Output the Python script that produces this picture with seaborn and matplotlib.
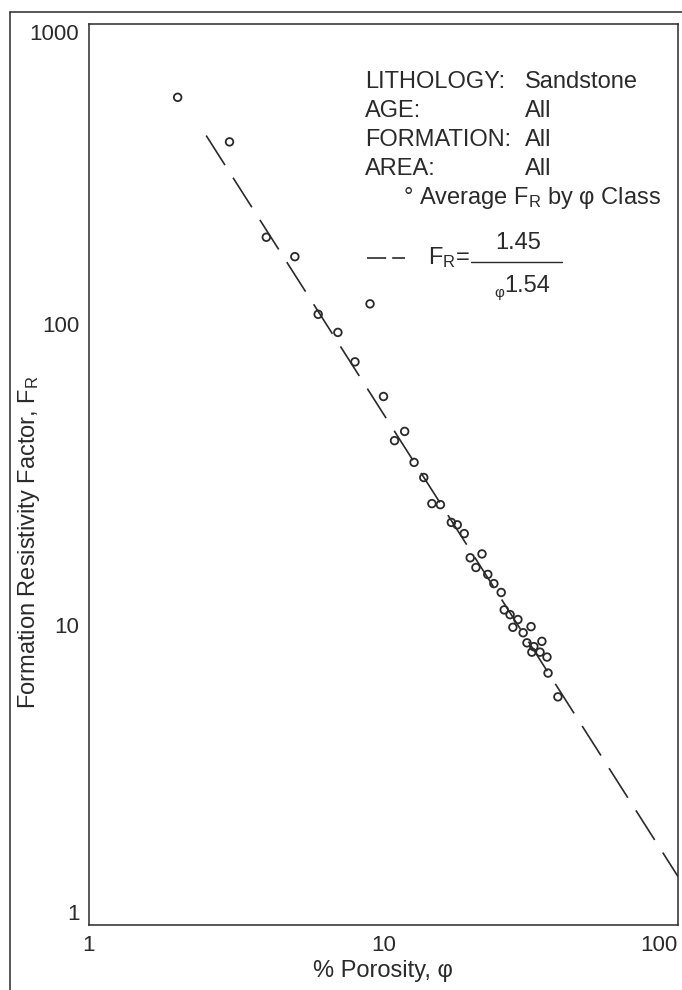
import matplotlib
matplotlib.use("Agg")
import matplotlib.pyplot as plt
from matplotlib.lines import Line2D
from matplotlib.ticker import NullLocator
import seaborn as sns
import pandas as pd

# Average formation resistivity factor by porosity class
porosity = [2, 3, 4, 5, 6, 7, 8, 9, 10, 10.9, 11.8, 12.7, 13.7, 14.6, 15.6, 17.0,
            17.8, 18.8, 19.7, 20.6, 21.6, 22.6, 23.7, 25.1, 25.7, 26.9, 27.5,
            28.6, 29.8, 30.7, 31.7, 31.9, 32.4, 34.0, 34.5, 35.9, 36.2, 39.1]
avg_fr = [570, 405, 195, 168, 108, 94, 75, 117, 57.5, 41, 44, 34.7, 30.9, 25.3,
          25.1, 21.9, 21.5, 20.1, 16.7, 15.5, 17.2, 14.7, 13.7, 12.8, 11.2, 10.8,
          9.8, 10.4, 9.4, 8.7, 9.85, 8.1, 8.45, 8.1, 8.8, 7.8, 6.9, 5.75]

# fitted line F_R = a / phi^m  (phi as fraction), drawn over this porosity span
fit_a = 1.45
fit_m = 1.54
fit_phi = [2.5, 100]

x_ticks = [1, 10, 100]
y_ticks = [1, 10, 100, 1000]

info_keys = ["LITHOLOGY:", "AGE:", "FORMATION:", "AREA:"]
info_vals = ["Sandstone", "All", "All", "All"]

sns.set_theme(style="white")
plt.rcParams["font.family"] = ["Liberation Sans", "DejaVu Sans"]
plt.rcParams["mathtext.fontset"] = "custom"
plt.rcParams["mathtext.rm"] = "Liberation Sans"
plt.rcParams["mathtext.it"] = "Liberation Sans:italic"
ink = "#2a2a2a"
fs = 17

W, H = 682, 990
fig = plt.figure(figsize=(W / 100, H / 100), dpi=100)
# axes box in pixels: left 89, right 678, top 24, bottom 925
L, R, T, B = 89, 678, 24, 925
ax = fig.add_axes([L / W, 1 - B / H, (R - L) / W, (B - T) / H])


def axp(px, py):
    # pixel position -> axes fraction
    return (px - L) / (R - L), (B - py) / (B - T)


ax.set_xscale("log")
ax.set_yscale("log")

df = pd.DataFrame({"porosity": porosity, "fr": avg_fr})
sns.scatterplot(data=df, x="porosity", y="fr", ax=ax, marker="o", s=30,
                facecolor="none", edgecolor=ink, linewidth=1.3, zorder=3)

fit_df = pd.DataFrame({"porosity": fit_phi,
                       "fr": [fit_a / (p / 100) ** fit_m for p in fit_phi]})
sns.lineplot(data=fit_df, x="porosity", y="fr", ax=ax, color=ink,
             linewidth=1.2, linestyle=(0, (21, 9)))

ax.set_xlim(1, 100)
ax.set_ylim(1, 1000)
ax.set_xticks(x_ticks, labels=[str(t) for t in x_ticks])
ax.set_yticks(y_ticks, labels=[str(t) for t in y_ticks])
ax.xaxis.set_minor_locator(NullLocator())
ax.yaxis.set_minor_locator(NullLocator())
ax.tick_params(direction="in", length=10, width=1.1, color=ink,
               labelcolor=ink, labelsize=16, pad=7)
for s in ax.spines.values():
    s.set_color(ink)
    s.set_linewidth(1.1)

# end labels kept inside the page like the original
ax.get_xticklabels()[-1].set_ha("right")
ax.get_yticklabels()[-1].set_va("top")
ax.get_yticklabels()[0].set_va("bottom")

ax.set_xlabel("% Porosity, φ", fontsize=fs, color=ink)
ax.set_ylabel("Formation Resistivity Factor, F$_\\mathrm{R}$", fontsize=fs, color=ink)
ax.xaxis.set_label_coords(*axp(383, 960))
ax.yaxis.set_label_coords(*axp(42, 542))

# info block
for i, (k, v) in enumerate(zip(info_keys, info_vals)):
    y = 82 + 29 * i
    ax.text(*axp(365, y), k, transform=ax.transAxes, fontsize=fs, color=ink,
            ha="left", va="center")
    ax.text(*axp(525, y), v, transform=ax.transAxes, fontsize=fs, color=ink,
            ha="left", va="center")
ax.text(*axp(403, 198), "° Average F$_\\mathrm{R}$ by φ Class",
        transform=ax.transAxes, fontsize=fs, color=ink, ha="left", va="center")

# fit legend entry
x0, y0 = axp(367, 258)
x1, _ = axp(405, 258)
ax.add_line(Line2D([x0, x1], [y0, y0], transform=ax.transAxes, color=ink,
                   lw=1.2, linestyle=(0, (11.5, 3.6))))
ax.text(*axp(428, 258), "F$_\\mathrm{R}$=", transform=ax.transAxes,
        fontsize=fs, color=ink, ha="left", va="center")
bx0, by = axp(471, 262)
bx1, _ = axp(562, 262)
ax.add_line(Line2D([bx0, bx1], [by, by], transform=ax.transAxes, color=ink, lw=1.0))
ax.text(*axp(518, 243), f"{fit_a:.2f}", transform=ax.transAxes, fontsize=fs,
        color=ink, ha="center", va="center")
ax.text(*axp(499, 293), "φ", transform=ax.transAxes, fontsize=11,
        color=ink, ha="center", va="center")
ax.text(*axp(504, 286), f"{fit_m:.2f}", transform=ax.transAxes, fontsize=fs,
        color=ink, ha="left", va="center")

# outer page frame
fx = 10 / W
fy = 1 - 12 / H
fig.add_artist(Line2D([fx, fx], [0, fy], transform=fig.transFigure, color=ink, lw=1.1))
fig.add_artist(Line2D([fx, 1], [fy, fy], transform=fig.transFigure, color=ink, lw=1.1))

fig.savefig("out.png", dpi=100)
